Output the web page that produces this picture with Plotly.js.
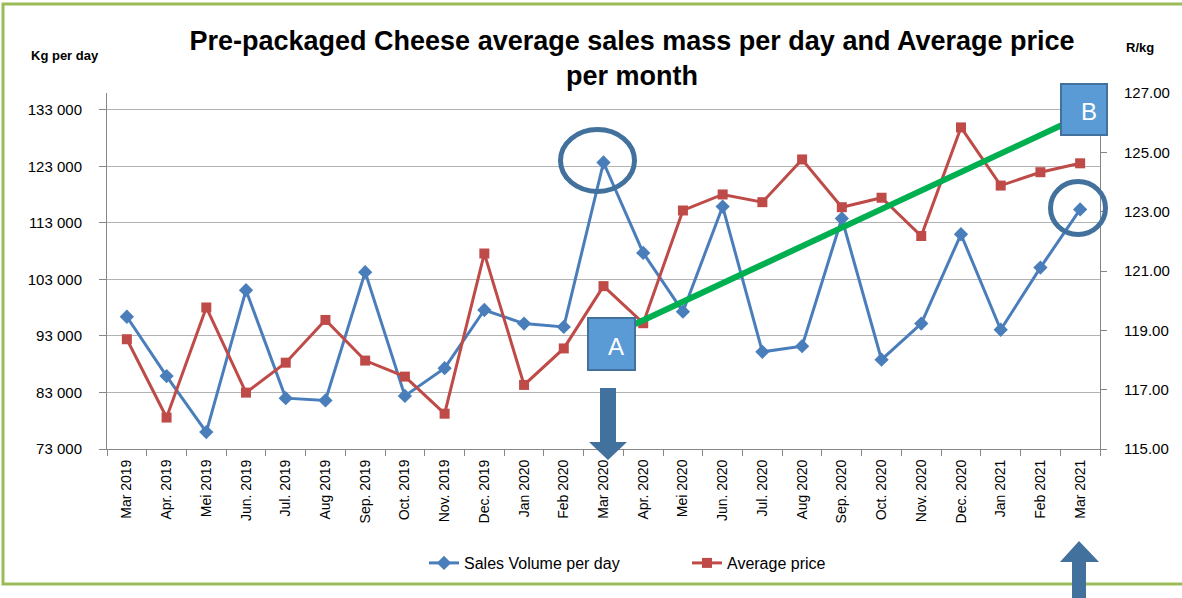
<!DOCTYPE html>
<html>
<head>
<meta charset="utf-8">
<script src="https://cdn.plot.ly/plotly-3.0.1.min.js"></script>
<style>
  html, body { margin: 0; padding: 0; background: #ffffff; }
  #chart { width: 1182px; height: 598px; }
</style>
</head>
<body>
<div id="chart"></div>
<script>
// ---------- data ----------
const months = ['Mar 2019','Apr. 2019','Mei 2019','Jun. 2019','Jul. 2019','Aug 2019','Sep. 2019',
  'Oct. 2019','Nov. 2019','Dec. 2019','Jan 2020','Feb 2020','Mar 2020','Apr. 2020','Mei 2020',
  'Jun. 2020','Jul. 2020','Aug 2020','Sep. 2020','Oct. 2020','Nov. 2020','Dec. 2020','Jan 2021',
  'Feb 2021','Mar 2021'];
const salesVolume = [96400, 85900, 76000, 101100, 82000, 81600, 104300, 82400, 87300, 97600,
  95200, 94600, 123700, 107700, 97300, 115900, 90200, 91200, 113800, 88800, 95200, 111000,
  94100, 105100, 115400];
const avgPrice = [118.70, 116.06, 119.77, 116.90, 117.91, 119.35, 117.98, 117.44, 116.19, 121.59,
  117.16, 118.39, 120.49, 119.24, 123.04, 123.58, 123.32, 124.76, 123.15, 123.47, 122.18, 125.84,
  123.88, 124.33, 124.63];
const seriesNames = ['Sales Volume per day', 'Average price'];
const chartTitle = 'Pre-packaged Cheese average sales mass per day and Average price<br>per month';
const leftAxisLabel = 'Kg per day';
const rightAxisLabel = 'R/kg';

// ---------- pixel -> paper helpers (plot area geometry) ----------
const L = 107, R = 1100, T = 93, B = 449;
const X = p => (p - L) / (R - L);
const Y = p => (B - p) / (B - T);
function path(pts) {
  return 'M' + pts.map(p => X(p[0]).toFixed(5) + ',' + Y(p[1]).toFixed(5)).join(' L') + ' Z';
}

const blue = '#4a7ebb', red = '#be4b48', dark = '#41719c', boxFill = '#5b9bd5';
const font = 'Liberation Sans, Arial, sans-serif';

const traces = [
  {
    x: months, y: salesVolume, name: seriesNames[0], type: 'scatter', mode: 'lines+markers',
    line: {color: blue, width: 3}, marker: {symbol: 'diamond', size: 11, color: blue},
    yaxis: 'y'
  },
  {
    x: months, y: avgPrice, name: seriesNames[1], type: 'scatter', mode: 'lines+markers',
    line: {color: red, width: 3}, marker: {symbol: 'square', size: 10, color: red},
    yaxis: 'y2'
  }
];

const shapes = [
  // green outer frame
  {type: 'rect', xref: 'paper', yref: 'paper', x0: X(3), x1: X(1195), y0: Y(4), y1: Y(584),
   line: {color: '#9bbb59', width: 3}, fillcolor: 'rgba(0,0,0,0)', layer: 'below'},
  // green trend line
  {type: 'line', xref: 'paper', yref: 'paper', x0: X(633), y0: Y(325), x1: X(1062), y1: Y(125),
   line: {color: '#00b050', width: 6}, layer: 'above'},
  // circles
  {type: 'circle', xref: 'paper', yref: 'paper', x0: X(560.5), x1: X(634.5), y0: Y(129.5), y1: Y(191.5),
   line: {color: dark, width: 5}, layer: 'above'},
  {type: 'circle', xref: 'paper', yref: 'paper', x0: X(1050.5), x1: X(1105.5), y0: Y(181.5), y1: Y(234.5),
   line: {color: dark, width: 5}, layer: 'above'},
  // box A
  {type: 'rect', xref: 'paper', yref: 'paper', x0: X(588), x1: X(635), y0: Y(318), y1: Y(370),
   line: {color: dark, width: 2}, fillcolor: boxFill, layer: 'above'},
  // box B
  {type: 'rect', xref: 'paper', yref: 'paper', x0: X(1061), x1: X(1107), y0: Y(84), y1: Y(135),
   line: {color: dark, width: 2}, fillcolor: boxFill, layer: 'above'},
  // down arrow under A
  {type: 'path', xref: 'paper', yref: 'paper', layer: 'above', line: {width: 0}, fillcolor: dark,
   path: path([[600,388],[616,388],[616,442],[627,442],[608,460],[589,442],[600,442]])},
  // up arrow bottom right
  {type: 'path', xref: 'paper', yref: 'paper', layer: 'above', line: {width: 0}, fillcolor: dark,
   path: path([[1072,602],[1072,562],[1060,562],[1079,541],[1099,562],[1086,562],[1086,602]])}
];

const annotations = [
  {text: '<b>' + leftAxisLabel + '</b>', xref: 'paper', yref: 'paper', x: X(65), y: Y(55), showarrow: false,
   xanchor: 'center', yanchor: 'middle', font: {family: font, size: 13, color: '#000'}},
  {text: '<b>' + rightAxisLabel + '</b>', xref: 'paper', yref: 'paper', x: X(1140), y: Y(47), showarrow: false,
   xanchor: 'center', yanchor: 'middle', font: {family: font, size: 13, color: '#000'}},
  {text: 'A', xref: 'paper', yref: 'paper', x: X(616), y: Y(346), showarrow: false,
   xanchor: 'center', yanchor: 'middle', font: {family: font, size: 24, color: '#ffffff'}},
  {text: 'B', xref: 'paper', yref: 'paper', x: X(1089), y: Y(112), showarrow: false,
   xanchor: 'center', yanchor: 'middle', font: {family: font, size: 24, color: '#ffffff'}}
];

const layout = {
  width: 1182, height: 598,
  margin: {l: L, r: 1182 - R, t: T, b: 598 - B, pad: 0},
  paper_bgcolor: '#ffffff', plot_bgcolor: '#ffffff',
  separators: '. ',
  font: {family: font, color: '#000'},
  title: {
    text: '<b>' + chartTitle + '</b>',
    font: {family: font, size: 27, color: '#000'},
    x: 632 / 1182, xanchor: 'center', xref: 'container',
    y: 1 - 50 / 598, yanchor: 'middle', yref: 'container'
  },
  showlegend: true,
  legend: {
    orientation: 'h', xref: 'container', yref: 'container',
    x: 424 / 1182, xanchor: 'left', y: 1 - 563 / 598, yanchor: 'middle',
    entrywidth: 218, entrywidthmode: 'pixels',
    font: {family: font, size: 16, color: '#000'}, bgcolor: 'rgba(0,0,0,0)'
  },
  xaxis: {
    type: 'category', range: [-0.5, 24.5], tickangle: -90,
    showgrid: false, showline: true, linecolor: '#868686', linewidth: 1,
    ticks: 'outside', tickson: 'boundaries', ticklen: 6, tickcolor: '#868686', ticklabelstandoff: 4,
    tickfont: {family: font, size: 14, color: '#000'}, zeroline: false, fixedrange: true
  },
  yaxis: {
    range: [73000, 136000], tick0: 73000, dtick: 10000, tickformat: ',d',
    showgrid: true, gridcolor: '#b3b3b3', gridwidth: 1,
    showline: true, linecolor: '#868686', linewidth: 1,
    ticks: 'outside', ticklen: 7, tickcolor: '#868686', ticklabelstandoff: 14,
    tickfont: {family: font, size: 15, color: '#000'}, zeroline: false, fixedrange: true
  },
  yaxis2: {
    overlaying: 'y', side: 'right', range: [115, 127], tick0: 115, dtick: 2, tickformat: '.2f',
    showgrid: false, showline: true, linecolor: '#868686', linewidth: 1,
    ticks: 'outside', ticklen: 6, tickcolor: '#868686', ticklabelstandoff: 14,
    tickfont: {family: font, size: 15, color: '#000'}, zeroline: false, fixedrange: true
  },
  shapes: shapes,
  annotations: annotations
};

Plotly.newPlot('chart', traces, layout, {displayModeBar: false, staticPlot: true});
</script>
</body>
</html>
